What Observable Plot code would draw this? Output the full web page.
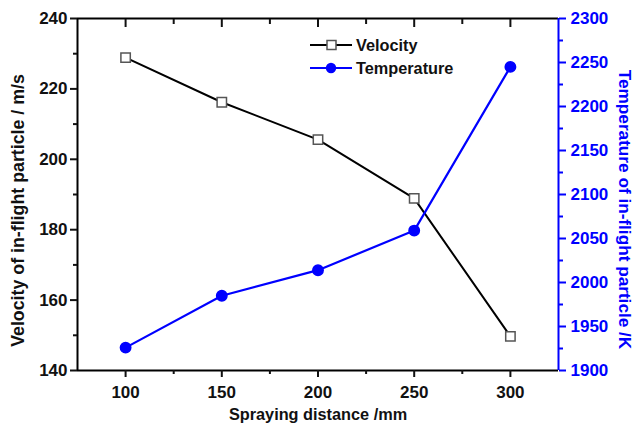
<!DOCTYPE html>
<html><head><meta charset="utf-8">
<script src="https://cdn.jsdelivr.net/npm/d3@7"></script>
<script src="https://cdn.jsdelivr.net/npm/@observablehq/plot@0.6"></script>
<style>body{margin:0;background:#fff}#c{position:relative;width:635px;height:426px}</style>
</head><body><div id="c"></div>
<script>
const distance = [100, 150, 200, 250, 300];
const velocity = [228.9, 216.2, 205.6, 188.9, 149.7];
const temperature = [1926, 1985, 2014, 2059, 2245];
const xTicks = [100, 150, 200, 250, 300];
const xMinor = [125, 175, 225, 275];
const vTicks = [140, 160, 180, 200, 220, 240];
const vMinor = [150, 170, 190, 210, 230];
const tTicks = [1900, 1950, 2000, 2050, 2100, 2150, 2200, 2250, 2300];
const tMinor = [1925, 1975, 2025, 2075, 2125, 2175, 2225, 2275];
const seriesNames = ["Velocity", "Temperature"];
const xTitle = "Spraying distance /mm";
const yTitle = "Velocity of in-flight particle / m/s";
const y2Title = "Temperature of in-flight particle /K";

const BLUE = "#0000ff";
const T = t => 140 + (t - 1900) / 4; // map temperature onto left scale
const data = distance.map((d, i) => ({d, v: velocity[i], t: temperature[i]}));

const chart = Plot.plot({
  width: 635, height: 426,
  marginLeft: 77, marginRight: 77, marginTop: 18, marginBottom: 56,
  x: {domain: [75, 325]},
  y: {domain: [140, 240]},
  style: {fontFamily: "'Liberation Sans', Arial, sans-serif", fontWeight: "bold", fontSize: "16px", color: "#111"},
  marks: [
    Plot.ruleY([140], {stroke: "black", strokeWidth: 2}),
    Plot.ruleY([240], {stroke: "black", strokeWidth: 2}),
    Plot.ruleX([75], {stroke: "black", strokeWidth: 2}),
    Plot.ruleX([325], {stroke: BLUE, strokeWidth: 2}),
    Plot.axisX(xTicks, {anchor: "bottom", tickSize: 7, tickPadding: 8, strokeWidth: 2, label: null, fontSize: 17, text: d => `${d}`}),
    Plot.axisX(xMinor, {anchor: "bottom", tickSize: 4, strokeWidth: 2, text: null, label: null}),
    Plot.axisX(xTicks, {anchor: "top", tickSize: -8, strokeWidth: 2, text: null, label: null}),
    Plot.axisX(xMinor, {anchor: "top", tickSize: -5, strokeWidth: 2, text: null, label: null}),
    Plot.axisY(vTicks, {anchor: "left", tickSize: 7, tickPadding: 3, strokeWidth: 2, label: null, fontSize: 17, text: d => `${d}`}),
    Plot.axisY(vMinor, {anchor: "left", tickSize: 4, strokeWidth: 2, text: null, label: null}),
    Plot.axisY(tTicks, {anchor: "right", y: T, text: d => `${d}`, tickSize: 7, tickPadding: 5, strokeWidth: 2, stroke: BLUE, fill: BLUE, color: BLUE, label: null, fontSize: 17}),
    Plot.axisY(tMinor, {anchor: "right", y: T, tickSize: 4, strokeWidth: 2, stroke: BLUE, text: null, label: null}),
    Plot.text([xTitle], {frameAnchor: "bottom", dy: 49, fontSize: 16.3, fill: "#111"}),
    Plot.text([yTitle], {frameAnchor: "left", textAnchor: "middle", rotate: -90, dx: -59, dy: 16, fontSize: 17.8, fill: "#111"}),
    Plot.text([y2Title], {frameAnchor: "right", textAnchor: "middle", rotate: 90, dx: 66, dy: 15, fontSize: 17.2, fill: BLUE}),
    Plot.line(data, {x: "d", y: "v", stroke: "black", strokeWidth: 2}),
    Plot.dot(data, {x: "d", y: "v", symbol: "square", r: 5.3, stroke: "#555", fill: "white", strokeWidth: 1.5}),
    Plot.line(data, {x: "d", y: d => T(d.t), stroke: BLUE, strokeWidth: 2.2}),
    Plot.dot(data, {x: "d", y: d => T(d.t), r: 5.2, fill: BLUE, stroke: BLUE})
  ]
});
document.getElementById("c").appendChild(chart);

// legend
const svg = d3.select(chart);
const lg = svg.append("g").attr("font-family", "'Liberation Sans', Arial, sans-serif").attr("font-weight", "bold").attr("font-size", 16.3).attr("text-anchor", "start");
const rows = [{name: seriesNames[0], color: "black", sym: "square", y: 45}, {name: seriesNames[1], color: BLUE, sym: "circle", y: 68}];
rows.forEach(r => {
  lg.append("line").attr("x1", 310).attr("x2", 352).attr("y1", r.y).attr("y2", r.y).attr("stroke", r.color).attr("stroke-width", 2);
  if (r.sym === "square") lg.append("rect").attr("x", 327).attr("y", r.y - 4.5).attr("width", 9).attr("height", 9).attr("fill", "white").attr("stroke", "#555").attr("stroke-width", 1.5);
  else lg.append("circle").attr("cx", 331).attr("cy", r.y).attr("r", 5.2).attr("fill", BLUE);
  lg.append("text").attr("x", 356).attr("y", r.y).attr("dy", "0.35em").attr("fill", "#111").text(r.name);
});
</script></body></html>
